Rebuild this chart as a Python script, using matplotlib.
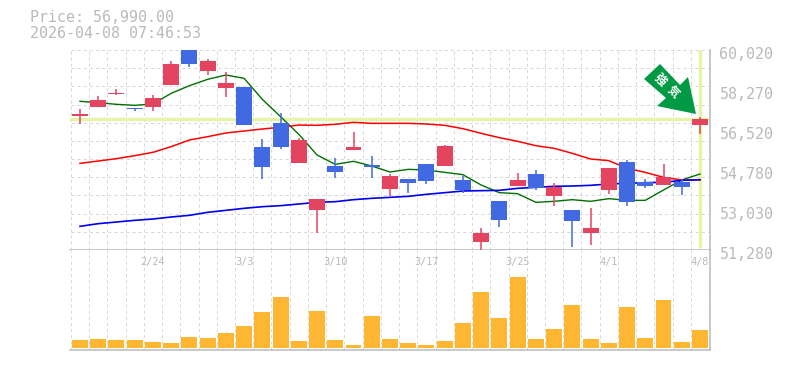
# -*- coding: utf-8 -*-
import matplotlib
matplotlib.use("Agg")
import matplotlib.pyplot as plt
from matplotlib.patches import Polygon
from matplotlib.transforms import ScaledTranslation, IdentityTransform
import numpy as np

title_lines = ["Price: 56,990.00", "2026-04-08 07:46:53"]
last_price = 56990

opens = [57136, 57529, 58112, 57485, 57529, 58490, 60020, 59102, 58359, 58403, 55781, 56830,
         55082, 53028, 54951, 55650, 54994, 53946, 54383, 55038, 54951, 54339, 51629, 53421,
         54077, 54601, 53640, 53028, 52023, 53902, 55125, 54251, 54120, 54251, 56742]
highs = [57442, 58010, 58316, 57485, 58053, 59539, 60020, 59627, 59059, 58403, 56131, 57267,
         56174, 53509, 55300, 56437, 55388, 54601, 54383, 55038, 55868, 54514, 52241, 53421,
         54645, 54776, 54208, 53028, 53115, 54863, 55213, 54383, 55038, 54383, 57092]
lows = [56786, 57529, 58053, 57354, 57354, 58490, 59277, 58927, 57966, 56742, 54383, 55694,
        55082, 52023, 54426, 55650, 54426, 53640, 53771, 54164, 54951, 53771, 51236, 52285,
        54077, 53902, 53203, 51411, 51498, 53727, 53203, 53989, 54120, 53683, 56349]
closes = [57223, 57835, 58141, 57456, 57922, 59408, 59408, 59539, 58578, 56742, 54907, 55781,
          56087, 53509, 54688, 55781, 54907, 54514, 54208, 54295, 55825, 53902, 52023, 52591,
          54339, 53989, 54033, 52547, 52241, 54863, 53377, 54077, 54470, 54033, 56990]

ma_short = [57777, 57718, 57646, 57602, 57660, 58126, 58461, 58738, 58927, 58782, 57864, 57107,
            56335, 55431, 55024, 55155, 54951, 54688, 54805, 54776, 54674, 54572, 54120, 53785,
            53742, 53363, 53407, 53479, 53407, 53523, 53450, 53450, 53902, 54339, 54601]
ma_mid = [55067, 55169, 55271, 55402, 55548, 55796, 56087, 56233, 56393, 56480, 56568, 56640,
          56742, 56728, 56772, 56859, 56815, 56815, 56815, 56786, 56728, 56582, 56378, 56189,
          56029, 55839, 55723, 55504, 55257, 55184, 54849, 54674, 54455, 54339, 54339]
ma_long = [52314, 52431, 52503, 52576, 52635, 52722, 52795, 52926, 53013, 53101, 53173, 53217,
           53290, 53363, 53392, 53479, 53538, 53581, 53625, 53713, 53785, 53858, 53873, 53887,
           53975, 54018, 54062, 54077, 54106, 54164, 54193, 54222, 54237, 54324, 54353]

volumes = [8, 9, 8, 8, 6, 5, 11, 10, 15, 22, 36, 51, 7, 37, 8, 3, 32, 9,
           5, 3, 7, 25, 56, 30, 71, 9, 19, 43, 9, 5, 41, 10, 48, 6, 18]

price_ticks = [60020, 58270, 56520, 54780, 53030, 51280]
date_pos = [4, 9, 14, 19, 24, 29, 34]
date_labels = ["2/24", "3/3", "3/10", "3/17", "3/25", "4/1", "4/8"]

UP = "#e34560"
DOWN = "#4169e1"
VOL = "#ffb733"
GRID = "#d8d8d8"
FRAME = "#c0c0c0"
TEXT = "#bababa"
MARK = "#e4f5a8"
MONO = "DejaVu Sans Mono"
DASH = (0, (3.06, 3.06))

W, H = 785, 370
fig = plt.figure(figsize=(W / 100, H / 100), dpi=100)
ax = fig.add_axes([70 / W, (H - 250) / H, 640 / W, 200 / H])
vax = fig.add_axes([70 / W, (H - 350) / H, 640 / W, 100 / H], sharex=ax)

n = len(closes)
idx = np.arange(n)
ax.set_xlim(-0.548, 34.55)
ax.set_ylim(51280, 60020)
vax.set_ylim(-2, 98)

for a in (ax, vax):
    for s in a.spines.values():
        s.set_visible(False)
    a.spines["bottom"].set_visible(True)
    a.spines["right"].set_visible(True)
    a.spines["bottom"].set_color(FRAME)
    a.spines["right"].set_color(FRAME)
    a.spines["bottom"].set_linewidth(1.2)
    a.spines["right"].set_linewidth(1.2)
    a.set_axisbelow(True)
    a.vlines(np.arange(n + 1) - 0.5, *a.get_ylim(), color=GRID, lw=0.72, linestyles=DASH, zorder=0)

ax.hlines(np.linspace(51280, 60020, 12)[1:], -0.5, 34.5, color=GRID, lw=0.72, linestyles=DASH, zorder=0)

# current price cross
ax.axhline(last_price, color=MARK, lw=2.4, zorder=1)
ax.plot([idx[-1], idx[-1]], [51350, 60000], color=MARK, lw=2.4, zorder=1, solid_capstyle="butt")

ax.plot(idx, ma_short, color="#007000", lw=1, zorder=2)
ax.plot(idx, ma_mid, color="#ff0000", lw=1.1, zorder=2)
ax.plot(idx, ma_long, color="#0000ee", lw=1.2, zorder=2)

for i in idx:
    c = UP if closes[i] >= opens[i] else DOWN
    ax.vlines(i, lows[i], highs[i], color=c, lw=1.1, zorder=3)
    ax.bar(i, abs(closes[i] - opens[i]), bottom=min(opens[i], closes[i]), width=0.875, color=c, zorder=4)

vax.bar(idx, volumes, width=0.875, color=VOL, zorder=3)

# price labels sit a few pixels below their level
ax.yaxis.tick_right()
ax.set_yticks(price_ticks)
ax.set_yticklabels([f"{p:,}" for p in price_ticks], fontfamily=MONO, fontsize=10.8, color=TEXT)
ax.tick_params(axis="y", length=0, pad=6.8)
shift = ScaledTranslation(0, -3 / 100, fig.dpi_scale_trans)
for lbl in ax.get_yticklabels():
    lbl.set_transform(lbl.get_transform() + shift)
ax.tick_params(axis="x", length=0, labelbottom=False, labeltop=False)

vax.set_yticks([])
vax.xaxis.tick_top()
vax.set_xticks(date_pos)
vax.set_xticklabels(date_labels, fontfamily=MONO, fontsize=7.4, color=TEXT)
vax.tick_params(axis="x", length=0, pad=-12.5)

# arrow badge, in pixel coordinates of the picture
arrow_px = [(660, 64), (644, 79), (666, 98), (657, 106), (696, 114), (688, 77), (680, 85)]
fig.add_artist(Polygon([(x, H - y) for x, y in arrow_px], closed=True, facecolor="#009944",
                       edgecolor="none", transform=IdentityTransform(), zorder=6))
for ch, px, py in zip("\u5f37\u6c17", (660, 673), (80, 92)):
    fig.text(px / W, 1 - py / H, ch, family=["Noto Sans CJK JP", "DejaVu Sans"], fontsize=8.5,
             fontweight="bold", color="white", rotation=-45, ha="center", va="center", zorder=7)

fig.text(30 / W, 1 - 18 / H, title_lines[0], family=MONO, fontsize=10.8, color=TEXT, va="center")
fig.text(30 / W, 1 - 33 / H, title_lines[1], family=MONO, fontsize=10.8, color=TEXT, va="center")

plt.savefig("out.png", dpi=100)
plt.close()
